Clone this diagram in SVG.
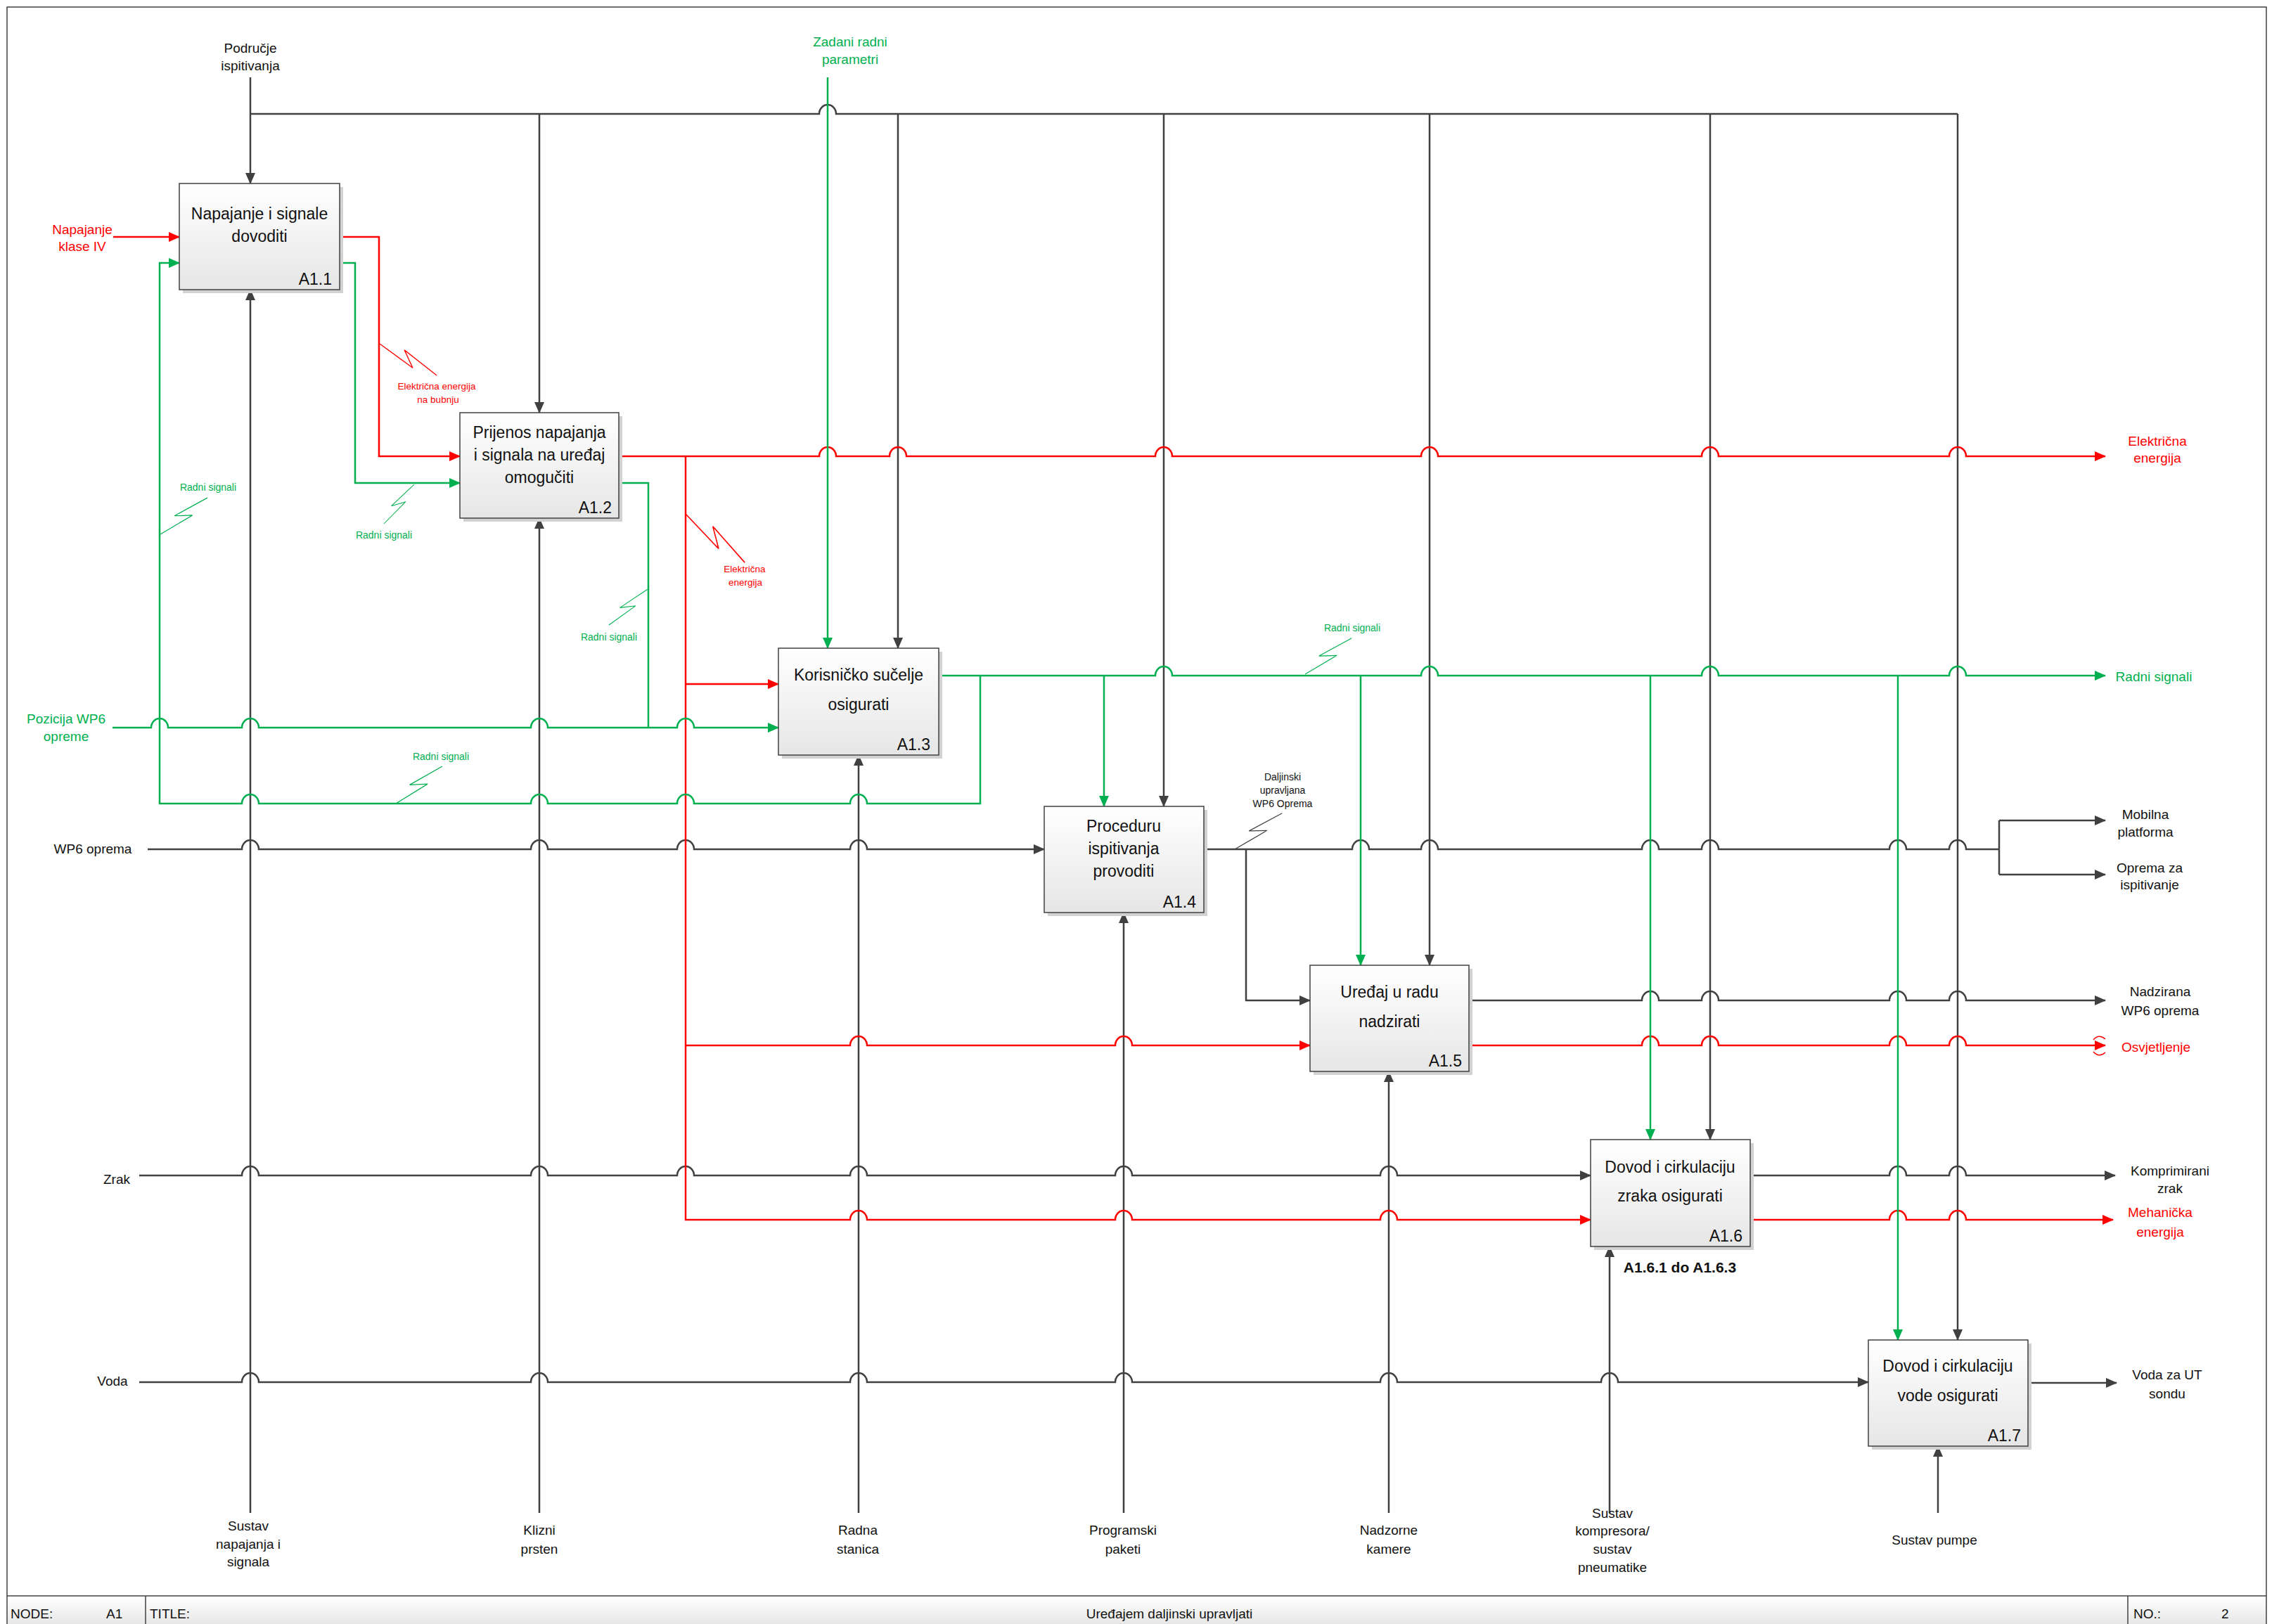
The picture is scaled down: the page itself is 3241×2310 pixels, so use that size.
<svg xmlns="http://www.w3.org/2000/svg" xmlns:xlink="http://www.w3.org/1999/xlink" width="3241" height="2310" viewBox="0 0 3241 2310">
<style>
.c{fill:none;stroke-width:2.5;stroke-linejoin:miter}
.g{stroke:#404040}
.r{stroke:#ff0000}
.n{stroke:#00b050}
.ag{marker-end:url(#mg)}
.ar{marker-end:url(#mr)}
.an{marker-end:url(#mn)}
.sq{fill:none;stroke-width:1.3}
text{font-family:"Liberation Sans",Arial,sans-serif;text-anchor:middle}
.lb{font-size:19px;fill:#111}
.lr{font-size:19px;fill:#ff0000}
.ln{font-size:19px;fill:#00b050}
.sm{font-size:14px;fill:#111}
.smr{font-size:13.5px;fill:#ff0000}
.smn{font-size:14px;fill:#00b050}
.bx{fill:url(#bg);stroke:#404040;stroke-width:1.5}
.sh{fill:#d2d2d2}
.bt{font-size:23px;fill:#111}
.bn{font-size:23px;fill:#111;text-anchor:end}
.tb{font-size:19px;fill:#111;text-anchor:start}
</style>
<defs>
<linearGradient id="bg" x1="0" y1="0" x2="0" y2="1"><stop offset="0" stop-color="#ffffff"/><stop offset="1" stop-color="#e6e6e6"/></linearGradient>
<linearGradient id="tg" x1="0" y1="0" x2="0" y2="1"><stop offset="0" stop-color="#ffffff"/><stop offset="1" stop-color="#e4e4e4"/></linearGradient>
<marker id="mg" viewBox="0 0 16 14" refX="15" refY="7" markerWidth="16" markerHeight="14" markerUnits="userSpaceOnUse" orient="auto"><path d="M0,0 L16,7 L0,14 z" fill="#404040"/></marker>
<marker id="mr" viewBox="0 0 16 14" refX="15" refY="7" markerWidth="16" markerHeight="14" markerUnits="userSpaceOnUse" orient="auto"><path d="M0,0 L16,7 L0,14 z" fill="#ff0000"/></marker>
<marker id="mn" viewBox="0 0 16 14" refX="15" refY="7" markerWidth="16" markerHeight="14" markerUnits="userSpaceOnUse" orient="auto"><path d="M0,0 L16,7 L0,14 z" fill="#00b050"/></marker>
<path id="sqp" d="M0,0 L56,7 L34,-9 L90,0"/>
</defs>
<rect x="0" y="0" width="3241" height="2310" fill="#ffffff"/>
<g id="frame">
<rect x="10" y="2270" width="3213" height="45" fill="url(#tg)"/>
<rect x="10" y="10" width="3213" height="2310" fill="none" stroke="#404040" stroke-width="1.5"/>
<line x1="10" y1="2270" x2="3223" y2="2270" stroke="#404040" stroke-width="1.5"/>
<line x1="207" y1="2270" x2="207" y2="2310" stroke="#404040" stroke-width="1.5"/>
<line x1="3026" y1="2270" x2="3026" y2="2310" stroke="#404040" stroke-width="1.5"/>
<text class="tb" x="15" y="2302">NODE:</text>
<text class="tb" x="151" y="2302">A1</text>
<text class="tb" x="213" y="2302">TITLE:</text>
<text x="1663" y="2302" style="font-size:19px;fill:#111">Uređajem daljinski upravljati</text>
<text class="tb" x="3034" y="2302">NO.:</text>
<text class="tb" x="3159" y="2302">2</text>
</g>
<g id="connectors">
<g class="c g">
<path class="ag" d="M356,110 L356,261"/>
<path d="M356,162 L1165,162 A12,13 0 0 1 1189,162 L2784,162"/>
<path class="ag" d="M767,162 L767,587"/>
<path class="ag" d="M1277,162 L1277,922"/>
<path class="ag" d="M1655,162 L1655,1147"/>
<path class="ag" d="M2033,162 L2033,1373"/>
<path class="ag" d="M2432,162 L2432,1621"/>
<path class="ag" d="M2784,162 L2784,1906"/>
<path class="ag" d="M210,1208 L344,1208 A12,13 0 0 1 368,1208 L755,1208 A12,13 0 0 1 779,1208 L963,1208 A12,13 0 0 1 987,1208 L1209,1208 A12,13 0 0 1 1233,1208 L1485,1208"/>
<path d="M1712,1208 L1923,1208 A12,13 0 0 1 1947,1208 L2021,1208 A12,13 0 0 1 2045,1208 L2335,1208 A12,13 0 0 1 2359,1208 L2420,1208 A12,13 0 0 1 2444,1208 L2687,1208 A12,13 0 0 1 2711,1208 L2772,1208 A12,13 0 0 1 2796,1208 L2843,1208"/>
<path d="M2843,1167 L2843,1244"/>
<path class="ag" d="M2843,1167 L2994,1167"/>
<path class="ag" d="M2843,1244 L2994,1244"/>
<path class="ag" d="M1772,1208 L1772,1423 L1863,1423"/>
<path class="ag" d="M2089,1423 L2335,1423 A12,13 0 0 1 2359,1423 L2420,1423 A12,13 0 0 1 2444,1423 L2687,1423 A12,13 0 0 1 2711,1423 L2772,1423 A12,13 0 0 1 2796,1423 L2994,1423"/>
<path class="ag" d="M198,1672 L344,1672 A12,13 0 0 1 368,1672 L755,1672 A12,13 0 0 1 779,1672 L963,1672 A12,13 0 0 1 987,1672 L1209,1672 A12,13 0 0 1 1233,1672 L1586,1672 A12,13 0 0 1 1610,1672 L1963,1672 A12,13 0 0 1 1987,1672 L2262,1672"/>
<path class="ag" d="M2489,1672 L2687,1672 A12,13 0 0 1 2711,1672 L2772,1672 A12,13 0 0 1 2796,1672 L3008,1672"/>
<path class="ag" d="M198,1966 L344,1966 A12,13 0 0 1 368,1966 L755,1966 A12,13 0 0 1 779,1966 L1209,1966 A12,13 0 0 1 1233,1966 L1586,1966 A12,13 0 0 1 1610,1966 L1963,1966 A12,13 0 0 1 1987,1966 L2277,1966 A12,13 0 0 1 2301,1966 L2657,1966"/>
<path class="ag" d="M2884,1967 L3010,1967"/>
<path class="ag" d="M356,2152 L356,412"/>
<path class="ag" d="M767,2152 L767,737"/>
<path class="ag" d="M1221,2152 L1221,1074"/>
<path class="ag" d="M1598,2152 L1598,1298"/>
<path class="ag" d="M1975,2152 L1975,1524"/>
<path class="ag" d="M2289,2152 L2289,1773"/>
<path class="ag" d="M2756,2152 L2756,2057"/>
</g>
<g class="c r">
<path class="ar" d="M161,337 L255,337"/>
<path class="ar" d="M483,337 L539,337 L539,649 L654,649"/>
<path class="ar" d="M880,649 L1165,649 A12,13 0 0 1 1189,649 L1265,649 A12,13 0 0 1 1289,649 L1643,649 A12,13 0 0 1 1667,649 L2021,649 A12,13 0 0 1 2045,649 L2420,649 A12,13 0 0 1 2444,649 L2772,649 A12,13 0 0 1 2796,649 L2994,649"/>
<path class="ar" d="M975,649 L975,1735 L1209,1735 A12,13 0 0 1 1233,1735 L1586,1735 A12,13 0 0 1 1610,1735 L1963,1735 A12,13 0 0 1 1987,1735 L2262,1735"/>
<path class="ar" d="M975,973 L1107,973"/>
<path class="ar" d="M975,1487 L1209,1487 A12,13 0 0 1 1233,1487 L1586,1487 A12,13 0 0 1 1610,1487 L1863,1487"/>
<path class="ar" d="M2089,1487 L2335,1487 A12,13 0 0 1 2359,1487 L2420,1487 A12,13 0 0 1 2444,1487 L2687,1487 A12,13 0 0 1 2711,1487 L2772,1487 A12,13 0 0 1 2796,1487 L2994,1487"/>
<path class="ar" d="M2489,1735 L2687,1735 A12,13 0 0 1 2711,1735 L2772,1735 A12,13 0 0 1 2796,1735 L3005,1735"/>
<path style="stroke-width:1.5" d="M2977,1479 Q2985,1470 2994,1478 M2977,1496 Q2985,1505 2994,1497"/>
</g>
<g class="c n">
<path class="an" d="M1177,110 L1177,922"/>
<path class="an" d="M483,374 L505,374 L505,687 L654,687"/>
<path d="M880,687 L922,687 L922,1035"/>
<path class="an" d="M160,1035 L215,1035 A12,13 0 0 1 239,1035 L344,1035 A12,13 0 0 1 368,1035 L755,1035 A12,13 0 0 1 779,1035 L963,1035 A12,13 0 0 1 987,1035 L1107,1035"/>
<path class="an" d="M1335,961 L1643,961 A12,13 0 0 1 1667,961 L2021,961 A12,13 0 0 1 2045,961 L2420,961 A12,13 0 0 1 2444,961 L2772,961 A12,13 0 0 1 2796,961 L2994,961"/>
<path class="an" d="M1570,961 L1570,1147"/>
<path class="an" d="M1935,961 L1935,1373"/>
<path class="an" d="M2347,961 L2347,1621"/>
<path class="an" d="M2699,961 L2699,1906"/>
<path class="an" d="M1394,961 L1394,1143 L1233,1143 A12,13 0 0 0 1209,1143 L987,1143 A12,13 0 0 0 963,1143 L779,1143 A12,13 0 0 0 755,1143 L368,1143 A12,13 0 0 0 344,1143 L227,1143 L227,374 L255,374"/>
</g>
<g id="squiggles">
<use xlink:href="#sqp" class="sq" stroke="#ff0000" transform="translate(540,489) rotate(29) scale(1.03)"/>
<use xlink:href="#sqp" class="sq" stroke="#ff0000" transform="translate(975,731) rotate(39.4) scale(1.21)"/>
<use xlink:href="#sqp" class="sq" stroke="#00b050" transform="translate(228,760) rotate(-37.8) scale(0.94)"/>
<use xlink:href="#sqp" class="sq" stroke="#00b050" transform="translate(546,745) rotate(-52.5) scale(0.78)"/>
<use xlink:href="#sqp" class="sq" stroke="#00b050" transform="translate(866,889) rotate(-42.8) scale(0.83)"/>
<use xlink:href="#sqp" class="sq" stroke="#00b050" transform="translate(563,1143) rotate(-38.8) scale(0.94)"/>
<use xlink:href="#sqp" class="sq" stroke="#00b050" transform="translate(1856,959) rotate(-37.7) scale(0.93)"/>
<use xlink:href="#sqp" class="sq" stroke="#404040" transform="translate(1756,1208) rotate(-37.3) scale(0.94)"/>
</g>
<g id="labels">
<text class="lb" x="356" y="75">Područje</text>
<text class="lb" x="356" y="100">ispitivanja</text>
<text class="ln" x="1209" y="66">Zadani radni</text>
<text class="ln" x="1209" y="91">parametri</text>
<text class="lr" x="117" y="333">Napajanje</text>
<text class="lr" x="117" y="357">klase IV</text>
<text class="ln" x="94" y="1029">Pozicija WP6</text>
<text class="ln" x="94" y="1054">opreme</text>
<text class="lb" x="132" y="1214">WP6 oprema</text>
<text class="lb" x="166" y="1684">Zrak</text>
<text class="lb" x="160" y="1971">Voda</text>
<text class="lb" x="353" y="2177">Sustav</text>
<text class="lb" x="353" y="2203">napajanja i</text>
<text class="lb" x="353" y="2228">signala</text>
<text class="lb" x="767" y="2183">Klizni</text>
<text class="lb" x="767" y="2210">prsten</text>
<text class="lb" x="1220" y="2183">Radna</text>
<text class="lb" x="1220" y="2210">stanica</text>
<text class="lb" x="1597" y="2183">Programski</text>
<text class="lb" x="1597" y="2210">paketi</text>
<text class="lb" x="1975" y="2183">Nadzorne</text>
<text class="lb" x="1975" y="2210">kamere</text>
<text class="lb" x="2293" y="2159">Sustav</text>
<text class="lb" x="2293" y="2184">kompresora/</text>
<text class="lb" x="2293" y="2210">sustav</text>
<text class="lb" x="2293" y="2236">pneumatike</text>
<text class="lb" x="2751" y="2197">Sustav pumpe</text>
<text class="lr" x="3068" y="634">Električna</text>
<text class="lr" x="3068" y="658">energija</text>
<text class="ln" x="3063" y="969">Radni signali</text>
<text class="lb" x="3051" y="1165">Mobilna</text>
<text class="lb" x="3051" y="1190">platforma</text>
<text class="lb" x="3057" y="1241">Oprema za</text>
<text class="lb" x="3057" y="1265">ispitivanje</text>
<text class="lb" x="3072" y="1417">Nadzirana</text>
<text class="lb" x="3072" y="1444">WP6 oprema</text>
<text class="lr" x="3066" y="1496">Osvjetljenje</text>
<text class="lb" x="3086" y="1672">Komprimirani</text>
<text class="lb" x="3086" y="1697">zrak</text>
<text class="lr" x="3072" y="1731">Mehanička</text>
<text class="lr" x="3072" y="1759">energija</text>
<text class="lb" x="3082" y="1962">Voda za UT</text>
<text class="lb" x="3082" y="1989">sondu</text>
<text class="smr" x="621" y="554">Električna energija</text>
<text class="smr" x="623" y="573">na bubnju</text>
<text class="smr" x="1059" y="814">Električna</text>
<text class="smr" x="1060" y="833">energija</text>
<text class="smn" x="296" y="698">Radni signali</text>
<text class="smn" x="546" y="766">Radni signali</text>
<text class="smn" x="866" y="911">Radni signali</text>
<text class="smn" x="627" y="1081">Radni signali</text>
<text class="smn" x="1923" y="898">Radni signali</text>
<text class="sm" x="1824" y="1110">Daljinski</text>
<text class="sm" x="1824" y="1129">upravljana</text>
<text class="sm" x="1824" y="1148">WP6 Oprema</text>
<text x="2389" y="1810" style="font-size:21px;font-weight:bold;fill:#111">A1.6.1 do A1.6.3</text>
</g>
</g>
<g id="A1.1">
<rect class="sh" x="260" y="266" width="228" height="151"/>
<rect class="bx" x="255" y="261" width="228" height="151"/>
<text class="bt" x="369" y="312">Napajanje i signale</text>
<text class="bt" x="369" y="344">dovoditi</text>
<text class="bn" x="472" y="405">A1.1</text>
</g>
<g id="A1.2">
<rect class="sh" x="659" y="592" width="226" height="150"/>
<rect class="bx" x="654" y="587" width="226" height="150"/>
<text class="bt" x="767" y="623">Prijenos napajanja</text>
<text class="bt" x="767" y="655">i signala na uređaj</text>
<text class="bt" x="767" y="687">omogučiti</text>
<text class="bn" x="870" y="730">A1.2</text>
</g>
<g id="A1.3">
<rect class="sh" x="1112" y="927" width="228" height="152"/>
<rect class="bx" x="1107" y="922" width="228" height="152"/>
<text class="bt" x="1221" y="968">Korisničko sučelje</text>
<text class="bt" x="1221" y="1010">osigurati</text>
<text class="bn" x="1323" y="1067">A1.3</text>
</g>
<g id="A1.4">
<rect class="sh" x="1490" y="1152" width="227" height="151"/>
<rect class="bx" x="1485" y="1147" width="227" height="151"/>
<text class="bt" x="1598" y="1183">Proceduru</text>
<text class="bt" x="1598" y="1215">ispitivanja</text>
<text class="bt" x="1598" y="1247">provoditi</text>
<text class="bn" x="1701" y="1291">A1.4</text>
</g>
<g id="A1.5">
<rect class="sh" x="1868" y="1378" width="226" height="151"/>
<rect class="bx" x="1863" y="1373" width="226" height="151"/>
<text class="bt" x="1976" y="1419">Uređaj u radu</text>
<text class="bt" x="1976" y="1461">nadzirati</text>
<text class="bn" x="2079" y="1517">A1.5</text>
</g>
<g id="A1.6">
<rect class="sh" x="2267" y="1626" width="227" height="152"/>
<rect class="bx" x="2262" y="1621" width="227" height="152"/>
<text class="bt" x="2375" y="1668">Dovod i cirkulaciju</text>
<text class="bt" x="2375" y="1709">zraka osigurati</text>
<text class="bn" x="2478" y="1766">A1.6</text>
</g>
<g id="A1.7">
<rect class="sh" x="2662" y="1911" width="227" height="151"/>
<rect class="bx" x="2657" y="1906" width="227" height="151"/>
<text class="bt" x="2770" y="1951">Dovod i cirkulaciju</text>
<text class="bt" x="2770" y="1993">vode osigurati</text>
<text class="bn" x="2874" y="2050">A1.7</text>
</g>
</svg>
